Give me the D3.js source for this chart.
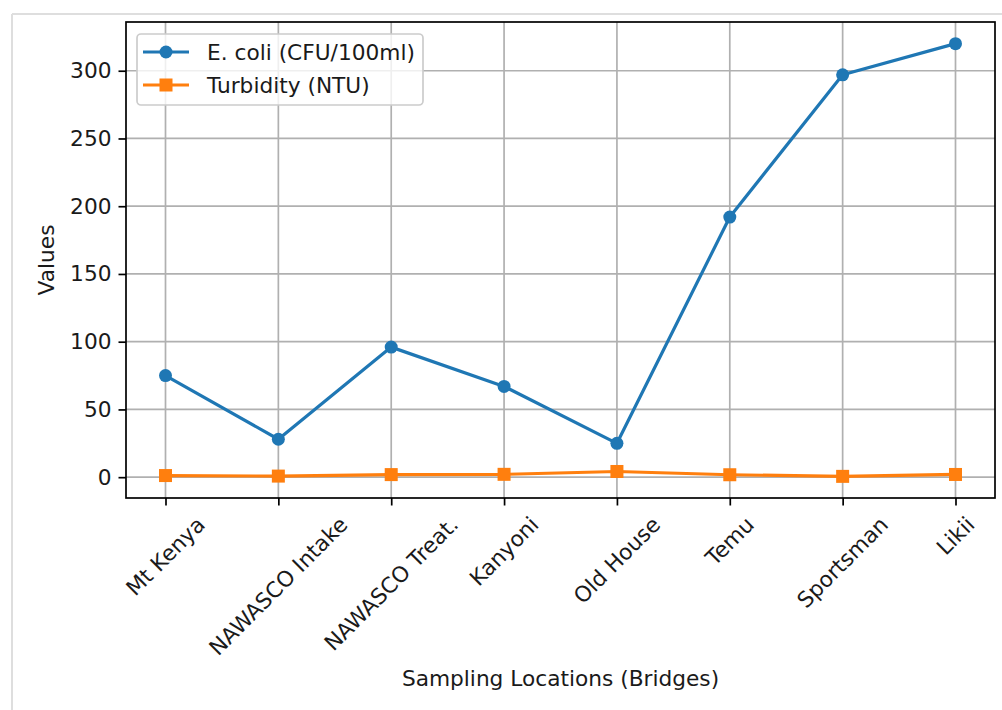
<!DOCTYPE html>
<html>
<head>
<meta charset="utf-8">
<script src="https://cdn.jsdelivr.net/npm/d3@7"></script>
<style>
  html, body { margin: 0; padding: 0; background: #fff; }
  svg { display: block; font-family: "DejaVu Sans", sans-serif; }
</style>
</head>
<body>
<svg id="chart" width="1002" height="710"></svg>
<script>
// Sampling locations along the river (bridges)
const locations = ["Mt Kenya", "NAWASCO Intake", "NAWASCO Treat.", "Kanyoni",
                   "Old House", "Temu", "Sportsman", "Likii"];
// E. coli counts (CFU/100ml) per location
const ecoli = [75, 28, 96, 67, 25, 192, 297, 320];
// Turbidity (NTU) per location
const turbidity = [1.2, 0.8, 1.9, 2.1, 4.2, 1.8, 0.6, 2.0];
// Y axis ticks
const yTicks = [0, 50, 100, 150, 200, 250, 300];

const seriesNames = ["E. coli (CFU/100ml)", "Turbidity (NTU)"];
const colors = ["#1f77b4", "#ff7f0e"];

const svg = d3.select("#chart");
const plot = { left: 126, right: 995, top: 22, bottom: 498 };
const fontSize = 21.7;
const textColor = "#1a1a1a";

// Notebook-style frame edges
svg.append("line").attr("x1", 12).attr("x2", 12).attr("y1", 14).attr("y2", 710)
  .attr("stroke", "#dedede").attr("stroke-width", 2);
svg.append("line").attr("x1", 12).attr("x2", 1002).attr("y1", 14).attr("y2", 14)
  .attr("stroke", "#dedede").attr("stroke-width", 2);

// Scales with 5% data margins
const n = locations.length;
const xPad = (n - 1) * 0.05;
const x = d3.scaleLinear().domain([-xPad, n - 1 + xPad]).range([plot.left, plot.right]);
const all = ecoli.concat(turbidity);
const [lo, hi] = d3.extent(all);
const yPad = (hi - lo) * 0.05;
const y = d3.scaleLinear().domain([lo - yPad, hi + yPad]).range([plot.bottom, plot.top]);

// Grid
const grid = svg.append("g");
grid.selectAll(".gx").data(d3.range(n)).join("line")
  .attr("x1", d => x(d)).attr("x2", d => x(d))
  .attr("y1", plot.top).attr("y2", plot.bottom)
  .attr("stroke", "#b0b0b0").attr("stroke-width", 1.7);
grid.selectAll(".gy").data(yTicks).join("line")
  .attr("x1", plot.left).attr("x2", plot.right)
  .attr("y1", d => y(d)).attr("y2", d => y(d))
  .attr("stroke", "#b0b0b0").attr("stroke-width", 1.7);

// Series lines and markers
const series = [ecoli, turbidity];
const line = d3.line().x((d, i) => x(i)).y(d => y(d));
series.forEach((vals, s) => {
  svg.append("path").datum(vals)
    .attr("d", line).attr("fill", "none")
    .attr("stroke", colors[s]).attr("stroke-width", 3.2)
    .attr("stroke-linejoin", "round");
});
svg.selectAll(".dot").data(ecoli).join("circle")
  .attr("cx", (d, i) => x(i)).attr("cy", d => y(d)).attr("r", 6.5)
  .attr("fill", colors[0]);
svg.selectAll(".sq").data(turbidity).join("rect")
  .attr("x", (d, i) => x(i) - 6.5).attr("y", d => y(d) - 6.5)
  .attr("width", 13).attr("height", 13)
  .attr("fill", colors[1]);

// Axes
const yAxis = d3.axisLeft(y).tickValues(yTicks).tickSize(7.5).tickPadding(7);
const gy = svg.append("g").attr("transform", `translate(${plot.left},0)`).call(yAxis);
gy.select(".domain").remove();
gy.selectAll(".tick line").attr("stroke", "#000").attr("stroke-width", 1.7);
gy.selectAll(".tick text").attr("font-size", fontSize).attr("fill", textColor)
  .attr("font-family", "DejaVu Sans");

const xAxis = d3.axisBottom(x).tickValues(d3.range(n)).tickSize(7.5).tickFormat(() => "");
const gx = svg.append("g").attr("transform", `translate(0,${plot.bottom})`).call(xAxis);
gx.select(".domain").remove();
gx.selectAll(".tick line").attr("stroke", "#000").attr("stroke-width", 1.7);

// Rotated category labels, centered on each tick
const labelTop = plot.bottom + 15;
locations.forEach((name, i) => {
  const t = svg.append("text").text(name)
    .attr("font-size", fontSize).attr("fill", textColor)
    .attr("text-anchor", "middle").attr("dominant-baseline", "central");
  const w = t.node().getComputedTextLength();
  const h = fontSize * 1.0;
  const half = (w + h) / Math.SQRT2 / 2;
  t.attr("transform", `translate(${x(i)},${labelTop + half}) rotate(-45)`);
});

// Spines
svg.append("rect")
  .attr("x", plot.left).attr("y", plot.top)
  .attr("width", plot.right - plot.left).attr("height", plot.bottom - plot.top)
  .attr("fill", "none").attr("stroke", "#000").attr("stroke-width", 1.7);

// Axis titles
svg.append("text").text("Sampling Locations (Bridges)")
  .attr("x", (plot.left + plot.right) / 2).attr("y", 686)
  .attr("text-anchor", "middle").attr("font-size", fontSize).attr("fill", textColor);
svg.append("text").text("Values")
  .attr("transform", `translate(54,${(plot.top + plot.bottom) / 2}) rotate(-90)`)
  .attr("text-anchor", "middle").attr("font-size", fontSize).attr("fill", textColor);

// Legend
const lg = svg.append("g");
lg.append("rect").attr("x", 137).attr("y", 34).attr("width", 286).attr("height", 71)
  .attr("rx", 4).attr("fill", "#fff").attr("fill-opacity", 0.8)
  .attr("stroke", "#cccccc").attr("stroke-width", 1.7);
seriesNames.forEach((name, s) => {
  const cy = 52 + s * 33;
  lg.append("line").attr("x1", 143).attr("x2", 189).attr("y1", cy).attr("y2", cy)
    .attr("stroke", colors[s]).attr("stroke-width", 3.2);
  if (s === 0) {
    lg.append("circle").attr("cx", 166).attr("cy", cy).attr("r", 6.5).attr("fill", colors[s]);
  } else {
    lg.append("rect").attr("x", 159.5).attr("y", cy - 6.5).attr("width", 13).attr("height", 13)
      .attr("fill", colors[s]);
  }
  lg.append("text").text(name).attr("x", 207).attr("y", cy)
    .attr("dominant-baseline", "central").attr("font-size", fontSize).attr("fill", textColor);
});
</script>
</body>
</html>
